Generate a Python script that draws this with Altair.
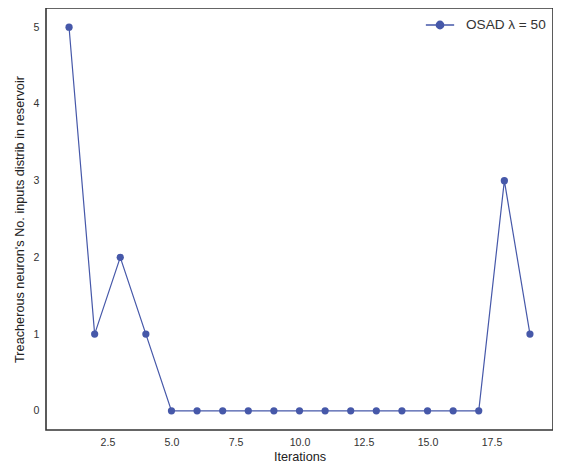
import altair as alt
import pandas as pd

iterations = list(range(1, 20))
counts = [5, 1, 2, 1, 0, 0, 0, 0, 0, 0, 0, 0, 0, 0, 0, 0, 0, 3, 1]
series_name = "OSAD \u03bb = 50"
x_ticks = [2.5, 5.0, 7.5, 10.0, 12.5, 15.0, 17.5]
y_ticks = [0, 1, 2, 3, 4, 5]

df = pd.DataFrame({"iteration": iterations, "count": counts, "series": [series_name] * len(iterations)})

blue = "#4658a9"

x_enc = alt.X("iteration:Q",
              scale=alt.Scale(domain=[0.1, 19.9], nice=False, zero=False),
              axis=alt.Axis(values=x_ticks, format=".1f", title="Iterations"))
y_enc = alt.Y("count:Q",
              scale=alt.Scale(domain=[-0.25, 5.25], nice=False, zero=False),
              axis=alt.Axis(values=y_ticks, format="d",
                            title="Treacherous neuron's No. inputs distrib in reservoir"))

legend_path = "M-1,0L1,0M-0.26,0A0.26,0.26,0,1,1,0.26,0A0.26,0.26,0,1,1,-0.26,0Z"

line = alt.Chart(df).mark_line(strokeWidth=1.2).encode(
    x=x_enc, y=y_enc,
    color=alt.Color("series:N", scale=alt.Scale(range=[blue]),
                    legend=alt.Legend(title=None, orient="none", legendX=379, legendY=2,
                                      symbolType=legend_path,
                                      symbolSize=800, symbolStrokeWidth=1.4,
                                      symbolFillColor=blue, symbolStrokeColor=blue,
                                      labelFontSize=13.6, labelColor="#333333",
                                      labelFont="Liberation Sans",
                                      padding=0, labelOffset=11))
)
points = alt.Chart(df).mark_point(filled=True, size=52, opacity=1, color=blue).encode(
    x=x_enc, y=y_enc
)

chart = alt.layer(line, points).properties(
    width=507, height=422,
    autosize=alt.AutoSizeParams(type="none"),
    padding={"left": 38, "top": 0, "right": 0, "bottom": 35},
).configure_view(
    stroke="#333333", strokeWidth=1.6
).configure_axis(
    grid=False, domain=False, ticks=False,
    labelFont="Liberation Sans", labelFontSize=10.6, labelColor="#333333", labelPadding=7,
    titleFont="Liberation Sans", titleFontSize=12.7, titleColor="#222222", titleFontWeight="normal",
    titlePadding=3
).configure_axisY(titlePadding=7, labelPadding=7)

chart.save("out.html", embed_options={"renderer": "svg", "actions": False})
